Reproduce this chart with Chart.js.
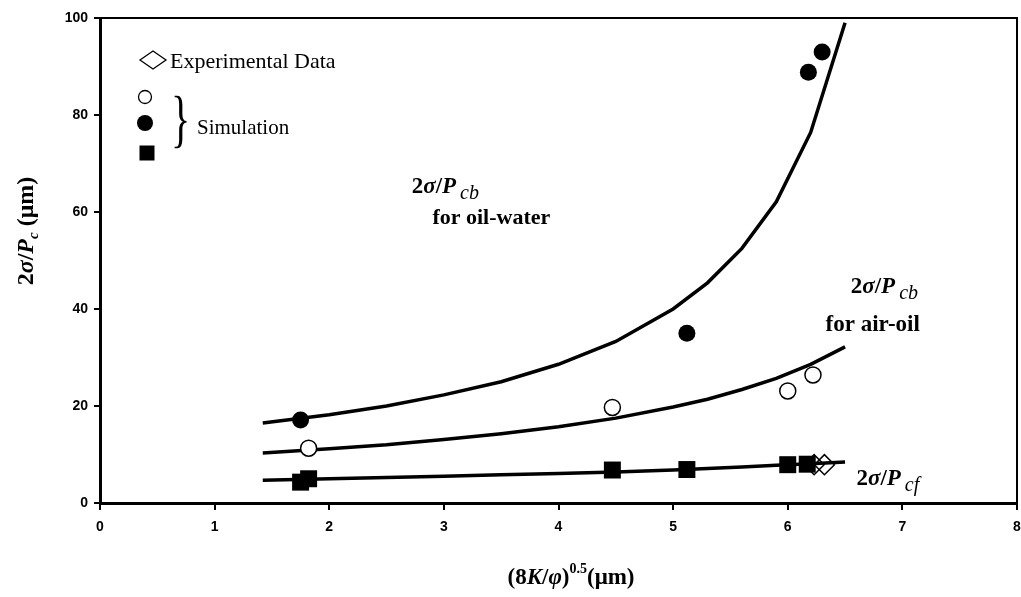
<!DOCTYPE html>
<html>
<head>
<meta charset="utf-8">
<script src="https://cdn.jsdelivr.net/npm/chart.js@4.4.0/dist/chart.umd.min.js"></script>
<style>
  html, body { margin: 0; padding: 0; background: #ffffff; overflow: hidden; width: 1021px; height: 597px; }
  #wrap { position: relative; width: 1029px; height: 597px; }
  canvas { display: block; }
</style>
</head>
<body>
<div id="wrap"><canvas id="c"></canvas></div>
<script>
// ---- Data ----
const curveX        = [1.42, 2.0, 2.5, 3.0, 3.5, 4.0, 4.5, 5.0, 5.3, 5.6, 5.9, 6.2, 6.5];
const oilWaterCurve = [16.5, 18.2, 20.0, 22.3, 25.0, 28.6, 33.3, 40.0, 45.4, 52.5, 62.1, 76.4, 99.0];
const airOilCurve   = [10.3, 11.2, 12.0, 13.1, 14.3, 15.7, 17.5, 19.8, 21.4, 23.4, 25.7, 28.6, 32.2];
const pcfCurve      = [4.7, 5.0, 5.25, 5.5, 5.8, 6.1, 6.4, 6.8, 7.1, 7.4, 7.8, 8.1, 8.45];

const filledCircleX = [1.75, 5.12, 6.18, 6.30];
const filledCircleY = [17.1, 35.0, 88.8, 93.0];
const openCircleX   = [1.82, 4.47, 6.00, 6.22];
const openCircleY   = [11.3, 19.7, 23.1, 26.4];
const squareX       = [1.75, 1.82, 4.47, 5.12, 6.00, 6.17];
const squareY       = [4.3, 5.0, 6.8, 6.9, 7.9, 8.0];
const diamondX      = [6.23, 6.32];
const diamondY      = [7.9, 7.9];

const xTicks = [0, 1, 2, 3, 4, 5, 6, 7, 8];
const yTicks = [0, 20, 40, 60, 80, 100];

const legendLabels = ['Experimental Data', 'Simulation'];
const annoOilWater = ['2', 'σ', '/', 'P', 'cb', 'for oil-water'];
const annoAirOil   = ['2', 'σ', '/', 'P', 'cb', 'for air-oil'];
const annoPcf      = ['2', 'σ', '/', 'P', 'cf'];

// ---- helpers ----
const pts = (xs, ys) => xs.map((x, i) => ({ x: x, y: ys[i] }));
const SERIF = '"Liberation Serif", "Times New Roman", serif';
const SANS = '"Liberation Sans", Arial, sans-serif';

function drawRich(ctx, parts, x, y, align) {
  let w = 0;
  for (const p of parts) { ctx.font = p.f; w += (p.gap || 0) + ctx.measureText(p.t).width; }
  let cx = align === 'center' ? x - w / 2 : x;
  for (const p of parts) {
    cx += (p.gap || 0);
    ctx.font = p.f;
    ctx.fillText(p.t, cx, y + (p.dy || 0));
    cx += ctx.measureText(p.t).width;
  }
}
function sigmaP(txt, size, subSize) {
  return [
    { t: txt[0], f: 'bold ' + size + 'px ' + SERIF },
    { t: txt[1], f: 'italic bold ' + size + 'px ' + SERIF },
    { t: txt[2], f: 'bold ' + size + 'px ' + SERIF },
    { t: txt[3], f: 'italic bold ' + size + 'px ' + SERIF },
    { t: txt[4], f: 'italic ' + subSize + 'px ' + SERIF, gap: 4, dy: 6 }
  ];
}

const decorPlugin = {
  id: 'decor',
  afterDraw(chart) {
    const ctx = chart.ctx;
    const a = chart.chartArea;
    const xs = chart.scales.x, ys = chart.scales.y;
    ctx.save();
    ctx.strokeStyle = '#000';
    ctx.fillStyle = '#000';
    // top and right frame lines
    ctx.lineWidth = 2;
    ctx.beginPath();
    ctx.moveTo(a.left, a.top); ctx.lineTo(a.right, a.top); ctx.lineTo(a.right, a.bottom);
    ctx.stroke();

    ctx.textBaseline = 'alphabetic';
    ctx.textAlign = 'left';

    // annotations (anchored in data coordinates)
    drawRich(ctx, sigmaP(annoOilWater, 23, 20), xs.getPixelForValue(2.72), ys.getPixelForValue(63.9), 'left');
    ctx.font = 'bold 22px ' + SERIF;
    ctx.fillText(annoOilWater[5], xs.getPixelForValue(2.9), ys.getPixelForValue(57.5));

    drawRich(ctx, sigmaP(annoAirOil, 23, 20), xs.getPixelForValue(6.55), ys.getPixelForValue(43.3), 'left');
    ctx.font = 'bold 23px ' + SERIF;
    ctx.fillText(annoAirOil[5], xs.getPixelForValue(6.33), ys.getPixelForValue(35.5));

    drawRich(ctx, sigmaP(annoPcf, 23, 20), xs.getPixelForValue(6.6), ys.getPixelForValue(3.7), 'left');

    // legend block (top-left)
    ctx.lineWidth = 1.3;
    // diamond
    ctx.beginPath();
    ctx.moveTo(140, 60); ctx.lineTo(153, 51); ctx.lineTo(166, 60); ctx.lineTo(153, 69); ctx.closePath();
    ctx.stroke();
    ctx.font = '22px ' + SERIF;
    ctx.fillText(legendLabels[0], 170, 68);
    // open circle
    ctx.beginPath(); ctx.arc(145, 97, 6.5, 0, Math.PI * 2); ctx.stroke();
    // filled circle
    ctx.beginPath(); ctx.arc(145, 123, 8, 0, Math.PI * 2); ctx.fill();
    // filled square
    ctx.fillRect(139.5, 145.5, 15, 15);
    // brace
    ctx.save();
    ctx.translate(171, 140);
    ctx.scale(1, 1.6);
    ctx.font = '40px ' + SERIF;
    ctx.fillText('}', 0, 0);
    ctx.restore();
    ctx.font = '21px ' + SERIF;
    ctx.fillText(legendLabels[1], 197, 134);

    // y-axis title (rotated)
    ctx.save();
    ctx.translate(33, 231);
    ctx.rotate(-Math.PI / 2);
    drawRich(ctx, [
      { t: '2', f: 'bold 24px ' + SERIF },
      { t: 'σ', f: 'italic bold 24px ' + SERIF },
      { t: '/', f: 'bold 24px ' + SERIF },
      { t: 'P', f: 'italic bold 24px ' + SERIF },
      { t: 'c', f: 'italic bold 15px ' + SERIF, dy: 5 },
      { t: ' (μm)', f: 'bold 24px ' + SERIF }
    ], 0, 0, 'center');
    ctx.restore();

    // x-axis title
    drawRich(ctx, [
      { t: '(8', f: 'bold 23px ' + SERIF },
      { t: 'K', f: 'italic bold 23px ' + SERIF },
      { t: '/', f: 'bold 23px ' + SERIF },
      { t: 'φ', f: 'italic bold 23px ' + SERIF },
      { t: ')', f: 'bold 23px ' + SERIF },
      { t: '0.5', f: 'bold 14px ' + SERIF, dy: -11 },
      { t: '(μm)', f: 'bold 23px ' + SERIF }
    ], 571, 584, 'center');
    ctx.restore();
  }
};

const lineDs = (data) => ({
  data: data, showLine: true, pointRadius: 0, borderColor: '#000', borderWidth: 3.5,
  fill: false, tension: 0
});

new Chart(document.getElementById('c'), {
  type: 'scatter',
  data: {
    datasets: [
      { data: pts(diamondX, diamondY), pointStyle: 'rectRot', pointRadius: 10,
        backgroundColor: 'rgba(255,255,255,0)', borderColor: '#000', borderWidth: 1.5 },
      { data: pts(squareX, squareY), pointStyle: 'rect', pointRadius: 12,
        backgroundColor: '#000', borderColor: '#000', borderWidth: 0 },
      { data: pts(openCircleX, openCircleY), pointStyle: 'circle', pointRadius: 8,
        backgroundColor: '#fff', borderColor: '#000', borderWidth: 1.5 },
      { data: pts(filledCircleX, filledCircleY), pointStyle: 'circle', pointRadius: 8.5,
        backgroundColor: '#000', borderColor: '#000', borderWidth: 0 },
      lineDs(pts(curveX, oilWaterCurve)),
      lineDs(pts(curveX, airOilCurve)),
      lineDs(pts(curveX, pcfCurve))
    ]
  },
  options: {
    responsive: true,
    maintainAspectRatio: false,
    animation: false,
    events: [],
    layout: { padding: { top: 18, right: 5, left: 0, bottom: 0 } },
    plugins: { legend: { display: false }, tooltip: { enabled: false } },
    scales: {
      x: {
        type: 'linear', min: xTicks[0], max: xTicks[xTicks.length - 1],
        afterBuildTicks: (s) => { s.ticks = xTicks.map(v => ({ value: v })); },
        afterFit: (s) => { s.height = 94; s.paddingLeft = 0; s.paddingRight = 0; },
        ticks: { color: '#000', font: { family: SANS, size: 14, weight: 'bold' }, padding: 9, maxRotation: 0 },
        grid: { drawOnChartArea: false, drawTicks: true, tickLength: 7, color: '#000', lineWidth: 2 },
        border: { display: true, color: '#000', width: 3 }
      },
      y: {
        type: 'linear', min: yTicks[0], max: yTicks[yTicks.length - 1],
        afterBuildTicks: (s) => { s.ticks = yTicks.map(v => ({ value: v })); },
        afterFit: (s) => { s.width = 100; s.paddingTop = 0; s.paddingBottom = 0; },
        ticks: { color: '#000', font: { family: SANS, size: 14, weight: 'bold' }, padding: 6 },
        grid: { drawOnChartArea: false, drawTicks: true, tickLength: 6, color: '#000', lineWidth: 2 },
        border: { display: true, color: '#000', width: 3 }
      }
    }
  },
  plugins: [decorPlugin]
});
</script>
</body>
</html>
